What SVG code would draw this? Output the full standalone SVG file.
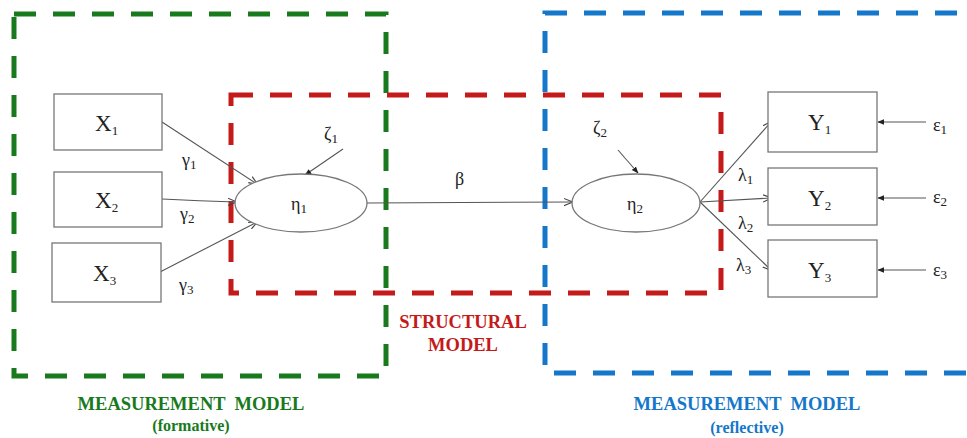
<svg xmlns="http://www.w3.org/2000/svg" width="967" height="438" viewBox="0 0 967 438">
<style>
.bx{fill:#fff;stroke:#777;stroke-width:1.3}
.el{fill:#fff;stroke:#777;stroke-width:1.3}
.t{font-family:"Liberation Serif","Times New Roman","DejaVu Serif",serif;fill:#222}
.big{font-size:23px}
.gr{font-size:18px}
.sub{font-size:13px}
.ln{fill:none;stroke:#555;stroke-width:1.1}
.dash{fill:none;stroke-width:5;stroke-dasharray:22 17}
.lbl{font-family:"Liberation Serif","Times New Roman","DejaVu Serif",serif;font-weight:bold;font-size:18.5px;text-anchor:middle}
.sm{font-size:16px}
</style>
<defs>
<marker id="ah" viewBox="0 0 10 10" refX="9" refY="5" markerWidth="9" markerHeight="9" markerUnits="userSpaceOnUse" orient="auto">
<path d="M0,1 L10,5 L0,9" fill="none" stroke="#444" stroke-width="1.3"/>
</marker>
<marker id="ahs" viewBox="0 0 10 10" refX="9" refY="5" markerWidth="7" markerHeight="7" markerUnits="userSpaceOnUse" orient="auto">
<path d="M0,1 L10,5 L0,9 z" fill="#222"/>
</marker>
</defs>

<g id="regions">
<rect x="14" y="14" width="372" height="362" class="dash" stroke="#187a1c"/>
<rect x="231" y="95" width="490" height="198" class="dash" stroke="#c41a1a"/>
<rect x="545" y="13" width="440" height="360" class="dash" stroke="#1577c9"/>
</g>

<g id="connectors">
<line x1="162" y1="122" x2="257" y2="184" class="ln" marker-end="url(#ah)"/>
<path d="M162,199 Q200,201 236,202" class="ln" marker-end="url(#ah)"/>
<line x1="160" y1="272" x2="257" y2="222" class="ln" marker-end="url(#ah)"/>
<line x1="343" y1="149" x2="305" y2="175" class="ln" marker-end="url(#ahs)"/>
<line x1="367" y1="203" x2="572" y2="202" class="ln" marker-end="url(#ah)"/>
<line x1="618" y1="150" x2="638" y2="173" class="ln" marker-end="url(#ahs)"/>
<line x1="700" y1="202" x2="771" y2="122" class="ln" marker-end="url(#ah)"/>
<line x1="700" y1="202" x2="771" y2="198" class="ln" marker-end="url(#ah)"/>
<line x1="700" y1="202" x2="771" y2="270" class="ln" marker-end="url(#ah)"/>
<line x1="926" y1="122" x2="878" y2="122" class="ln" marker-end="url(#ahs)"/>
<line x1="926" y1="198" x2="878" y2="198" class="ln" marker-end="url(#ahs)"/>
<line x1="926" y1="270" x2="878" y2="270" class="ln" marker-end="url(#ahs)"/>
</g>

<g id="connector-labels">
<text class="t gr" x="182" y="166">γ<tspan class="sub" dy="3">1</tspan></text>
<text class="t gr" x="180" y="220">γ<tspan class="sub" dy="3">2</tspan></text>
<text class="t gr" x="179" y="291">γ<tspan class="sub" dy="3">3</tspan></text>
<text class="t gr" x="455" y="185">β</text>
<text class="t gr" x="738" y="181">λ<tspan class="sub" dy="3">1</tspan></text>
<text class="t gr" x="738" y="229">λ<tspan class="sub" dy="3">2</tspan></text>
<text class="t gr" x="736" y="271">λ<tspan class="sub" dy="3">3</tspan></text>
</g>

<g id="X1"><rect x="54" y="94" width="108" height="56" class="bx"/><text class="t big" x="95" y="131">X<tspan class="sub" dy="4">1</tspan></text></g>
<g id="X2"><rect x="54" y="172" width="108" height="55" class="bx"/><text class="t big" x="95" y="208">X<tspan class="sub" dy="4">2</tspan></text></g>
<g id="X3"><rect x="52" y="243" width="109" height="59" class="bx"/><text class="t big" x="93" y="281">X<tspan class="sub" dy="4">3</tspan></text></g>

<g id="eta1"><ellipse cx="301" cy="203" rx="66" ry="29" class="el"/><text class="t gr" x="291" y="210">η<tspan class="sub" dy="3">1</tspan></text></g>
<g id="zeta1"><text class="t gr" x="324" y="140">ζ<tspan class="sub" dy="3">1</tspan></text></g>

<g id="eta2"><ellipse cx="636" cy="203" rx="64" ry="29" class="el"/><text class="t gr" x="627" y="210">η<tspan class="sub" dy="3">2</tspan></text></g>
<g id="zeta2"><text class="t gr" x="593" y="134">ζ<tspan class="sub" dy="3">2</tspan></text></g>

<g id="Y1"><rect x="768" y="92" width="109" height="60" class="bx"/><text class="t big" x="808" y="130">Y<tspan class="sub" dy="4">1</tspan></text></g>
<g id="Y2"><rect x="768" y="168" width="109" height="57" class="bx"/><text class="t big" x="808" y="206">Y<tspan class="sub" dy="4">2</tspan></text></g>
<g id="Y3"><rect x="768" y="240" width="109" height="57" class="bx"/><text class="t big" x="808" y="278">Y<tspan class="sub" dy="4">3</tspan></text></g>

<g id="eps1"><text class="t gr" x="933" y="131">ε<tspan class="sub" dy="3">1</tspan></text></g>
<g id="eps2"><text class="t gr" x="933" y="203">ε<tspan class="sub" dy="3">2</tspan></text></g>
<g id="eps3"><text class="t gr" x="933" y="276">ε<tspan class="sub" dy="3">3</tspan></text></g>

<g id="region-labels">
<text class="lbl" fill="#c41a1a" x="463" y="328">STRUCTURAL</text>
<text class="lbl" fill="#c41a1a" x="463" y="351">MODEL</text>
<text class="lbl" fill="#187a1c" x="191" y="410" xml:space="preserve">MEASUREMENT  MODEL</text>
<text class="lbl sm" fill="#187a1c" x="191" y="431">(formative)</text>
<text class="lbl" fill="#1577c9" x="747" y="410" xml:space="preserve">MEASUREMENT  MODEL</text>
<text class="lbl sm" fill="#1577c9" x="747" y="433">(reflective)</text>
</g>
</svg>
